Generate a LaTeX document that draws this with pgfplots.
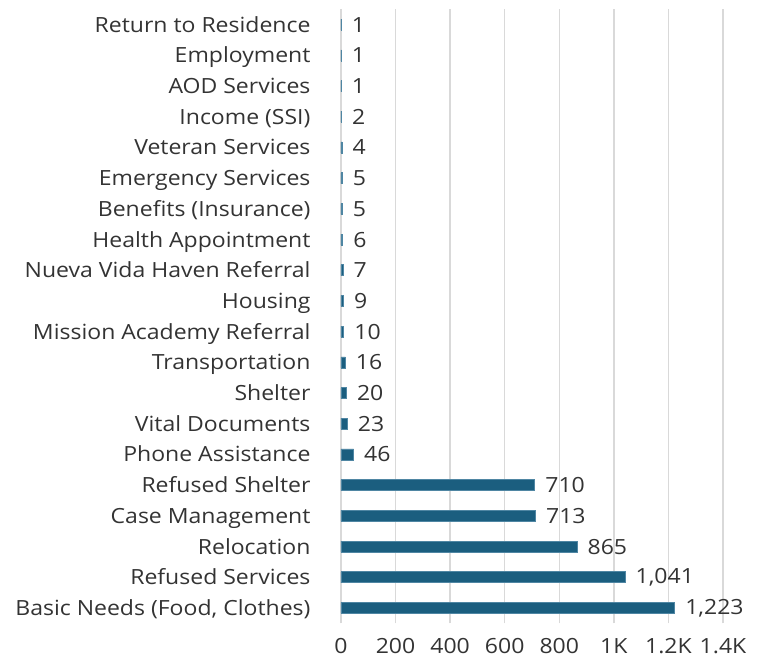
\documentclass[border=0pt]{standalone}
\usepackage{fontspec}
\setmainfont[FakeStretch=1.1]{Open Sans}
\usepackage{pgfplots}
\pgfplotsset{compat=1.18}
\definecolor{barc}{HTML}{1B5E7F}
\definecolor{bare}{HTML}{4F86A3}
\definecolor{gridc}{HTML}{D9D9D9}
\definecolor{txt}{HTML}{333333}
\begin{document}
\begin{tikzpicture}
\begin{axis}[
  xbar,
  scale only axis,
  width=382bp, height=614bp,
  xmin=0, xmax=1400,
  ymin=-0.5, ymax=19.5,
  bar width=11bp,
  axis line style={draw=none},
  xmajorgrids, grid style={gridc, line width=1.3bp},
  xtick={0,200,400,600,800,1000,1200,1400},
  xticklabels={0,200,400,600,800,1K,1.2K,1.4K},
  ytick={0,...,19},
  yticklabels={{Basic Needs (Food, Clothes)},{Refused Services},{Relocation},{Case Management},{Refused Shelter},{Phone Assistance},{Vital Documents},{Shelter},{Transportation},{Mission Academy Referral},{Housing},{Nueva Vida Haven Referral},{Health Appointment},{Benefits (Insurance)},{Emergency Services},{Veteran Services},{Income (SSI)},{AOD Services},{Employment},{Return to Residence}},
  major tick length=0pt,
  tick label style={font=\fontsize{21}{25}\selectfont, text=txt},
  yticklabel style={xshift=-27bp, text height=18bp, text depth=3bp},
  xticklabel style={yshift=-12bp},
  nodes near coords,
  nodes near coords style={font=\fontsize{21}{25}\selectfont, text=txt, xshift=7bp,
    /pgf/number format/.cd, fixed, precision=0, 1000 sep={,}, assume math mode=true},
]
\addplot[fill=barc, draw=bare, line width=0.6bp] coordinates {
(1223,0) (1041,1) (865,2) (713,3) (710,4) (46,5) (23,6) (20,7) (16,8) (10,9)
(9,10) (7,11) (6,12) (5,13) (5,14) (4,15) (2,16) (1,17) (1,18) (1,19)};
\end{axis}
\path (current axis.south west) ++(-341bp,-38.7bp) rectangle ++(758bp,662bp);
\end{tikzpicture}
\end{document}
